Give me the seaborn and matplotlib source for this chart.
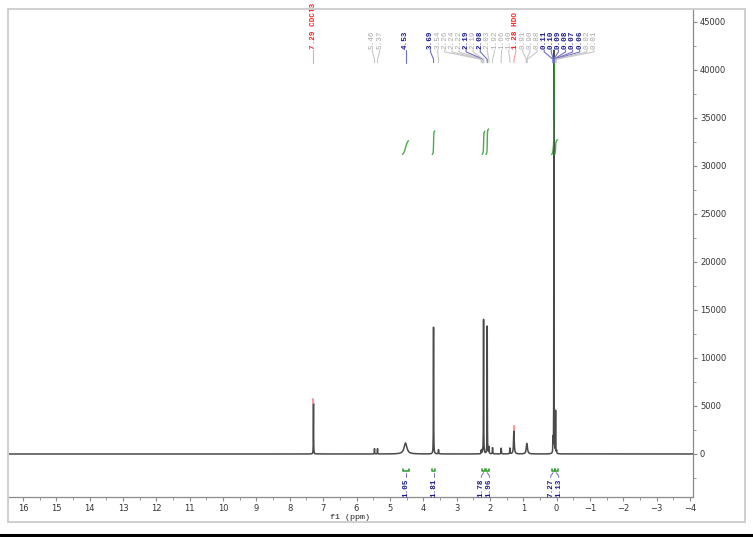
import numpy as np
import pandas as pd
import matplotlib
matplotlib.use("Agg")
import matplotlib.pyplot as plt
from matplotlib.lines import Line2D
from matplotlib.patches import Rectangle
from matplotlib.ticker import MultipleLocator, FixedLocator
import seaborn as sns

# peaks: shift (ppm), height, half width (ppm)
shifts = [7.29, 5.46, 5.37, 4.53, 3.69, 3.54, 2.26, 2.24, 2.22, 2.19, 2.08,
          2.03, 1.92, 1.66, 1.40, 1.28, 0.89, 0.11, 0.08, 0.03, 0.00]
heights = [5300, 550, 550, 1150, 13200, 450, 350, 300, 300, 14000, 13300,
           700, 650, 600, 600, 2500, 1100, 1500, 42000, 4400, 300]
halfw = [0.004, 0.004, 0.004, 0.05, 0.004, 0.006, 0.004, 0.004, 0.004, 0.004, 0.004,
         0.006, 0.006, 0.006, 0.006, 0.012, 0.02, 0.004, 0.003, 0.004, 0.004]

# peak picking labels
pk_text = ["7.29 CDCl3", "5.46", "5.37", "4.53", "3.69", "3.54", "2.26", "2.24", "2.22",
           "2.19", "2.19", "2.08", "2.03", "1.92", "1.66", "1.40", "1.28 HDO",
           "0.91", "0.90", "0.88", "0.11", "0.10", "0.09", "0.08", "0.07", "0.06",
           "0.02", "0.01"]
pk_ppm = [7.29, 5.46, 5.37, 4.53, 3.69, 3.54, 2.26, 2.24, 2.22, 2.19, 2.19, 2.08,
          2.03, 1.92, 1.66, 1.40, 1.28, 0.91, 0.90, 0.88, 0.11, 0.10, 0.09, 0.08,
          0.07, 0.06, 0.02, 0.01]
pk_kind = ["ref", "o", "o", "m", "m", "o", "o", "o", "o", "m", "o", "m", "o", "o",
           "o", "o", "ref", "o", "o", "o", "m", "m", "m", "m", "m", "m", "o", "o"]

# integrals
int_val = [1.05, 1.81, 1.78, 1.96, 7.27, 1.13]
int_from = [4.62, 3.73, 2.23, 2.12, 0.15, 0.055]
int_to = [4.44, 3.65, 2.15, 2.04, 0.055, -0.03]

kind_col = {"ref": "#ff2020", "m": "#1a1a8c", "o": "#a8a8a8"}
kind_line = {"ref": "#ff9a9a", "m": "#7070c0", "o": "#c8c8c8"}

ppm = np.arange(-4.2, 16.6, 0.0005)
spec = np.zeros_like(ppm)
for s, h, w in zip(shifts, heights, halfw):
    spec += h * w**2 / ((ppm - s)**2 + w**2)
df = pd.DataFrame({"ppm": ppm, "I": spec})


def spread(pos, gap):
    clusters = [[p] for p in pos]

    def place(c):
        m = np.mean(c)
        n = len(c)
        return [m + gap * ((n - 1) / 2 - i) for i in range(n)]

    merged = True
    while merged:
        merged = False
        for k in range(len(clusters) - 1):
            a = place(clusters[k])
            b = place(clusters[k + 1])
            if a[-1] - b[0] < gap - 1e-9:
                clusters[k] = clusters[k] + clusters[k + 1]
                del clusters[k + 1]
                merged = True
                break
    out = []
    for c in clusters:
        out += place(c)
    return out


sns.set_theme(style="white")
plt.rcParams["font.family"] = ["DejaVu Sans"]

W, H = 753, 537
fig = plt.figure(figsize=(W / 100, H / 100), dpi=100)
ax = fig.add_axes([8 / W, 1 - 497 / H, 685 / W, 488 / H])

sns.lineplot(data=df, x="ppm", y="I", ax=ax, color="#4a4a4a", lw=1.1,
             estimator=None, sort=False)

ax.set_xlim(16.45, -4.09)
ax.set_ylim(-4480, 46350)

# integral curves
base = 31200
scale = 1354
for v, a, b in zip(int_val, int_from, int_to):
    sel = (ppm <= a) & (ppm >= b)
    sub = df[sel].iloc[::-1]
    cum = sub["I"].cumsum()
    cum = cum / cum.iloc[-1]
    ax.plot(sub["ppm"], base + cum * v * scale, color="#2f9a2f", lw=1.0, alpha=0.85)

# peak top marks
for t, p, k in zip(pk_text, pk_ppm, pk_kind):
    if k == "ref":
        h = np.interp(p, ppm, spec)
        ax.plot([p, p], [h, h + 450], color=kind_line[k], lw=1.5)

# peak labels
tr = ax.get_xaxis_transform()
lab_x = spread(pk_ppm, 0.213)
for t, p, k, lx in zip(pk_text, pk_ppm, pk_kind, lab_x):
    ax.plot([lx, lx, p, p], [0.916, 0.912, 0.897, 0.890], transform=tr,
            color=kind_line[k], lw=0.8, clip_on=False)
    ax.text(lx, 0.918, t, transform=tr, rotation=90, ha="center", va="bottom",
            fontsize=5.5, family="Liberation Mono", color=kind_col[k],
            fontweight="bold" if k != "o" else "normal")

# integral labels
int_mid = [(a + b) / 2 for a, b in zip(int_from, int_to)]
int_x = spread(int_mid, 0.24)
for v, a, b, m, lx in zip(int_val, int_from, int_to, int_mid, int_x):
    ax.plot([a, a, b, b], [0.058, 0.053, 0.053, 0.058], transform=tr,
            color="#3aa03a", lw=1.2, clip_on=False)
    ax.plot([m, lx, lx], [0.050, 0.043, 0.040], transform=tr,
            color="#7070c0", lw=0.7, clip_on=False)
    ax.text(lx, 0.038, f"{v:.2f}", transform=tr, rotation=90, ha="center", va="top",
            fontsize=5.5, family="Liberation Mono", color="#1a1a8c", fontweight="bold")

# axes styling
for s in ["left", "top"]:
    ax.spines[s].set_visible(False)
for s in ["right", "bottom"]:
    ax.spines[s].set_color("#8a8a8a")
    ax.spines[s].set_linewidth(0.9)

ax.xaxis.set_major_locator(MultipleLocator(1))
ax.xaxis.set_minor_locator(MultipleLocator(0.5))
ax.yaxis.tick_right()
ax.yaxis.set_major_locator(FixedLocator(np.arange(0, 45001, 5000)))
ax.yaxis.set_minor_locator(FixedLocator(np.arange(-2500, 45001, 5000)))
ax.tick_params(axis="both", which="major", direction="out", length=3, width=0.8,
               color="#8a8a8a", labelsize=6, labelcolor="#333333", pad=2,
               bottom=True, right=True, left=False)
ax.tick_params(axis="both", which="minor", direction="out", length=2, width=0.6,
               color="#8a8a8a", bottom=True, right=True, left=False)
ax.set_ylabel("")
ax.set_xlabel("f1 (ppm)", fontsize=6, family="Liberation Mono", color="#222222",
              labelpad=1)
ax.patch.set_alpha(0)

# outer frame and bottom rule
fig.add_artist(Rectangle((8 / W, 1 - 522 / H), 737 / W, 513 / H, fill=False,
                         edgecolor="#cfcfcf", lw=1.4, transform=fig.transFigure))
fig.add_artist(Line2D([0, 1], [1 - 534.5 / H] * 2, color="black", lw=2.2,
                      transform=fig.transFigure))

fig.savefig("out.png", dpi=100)
